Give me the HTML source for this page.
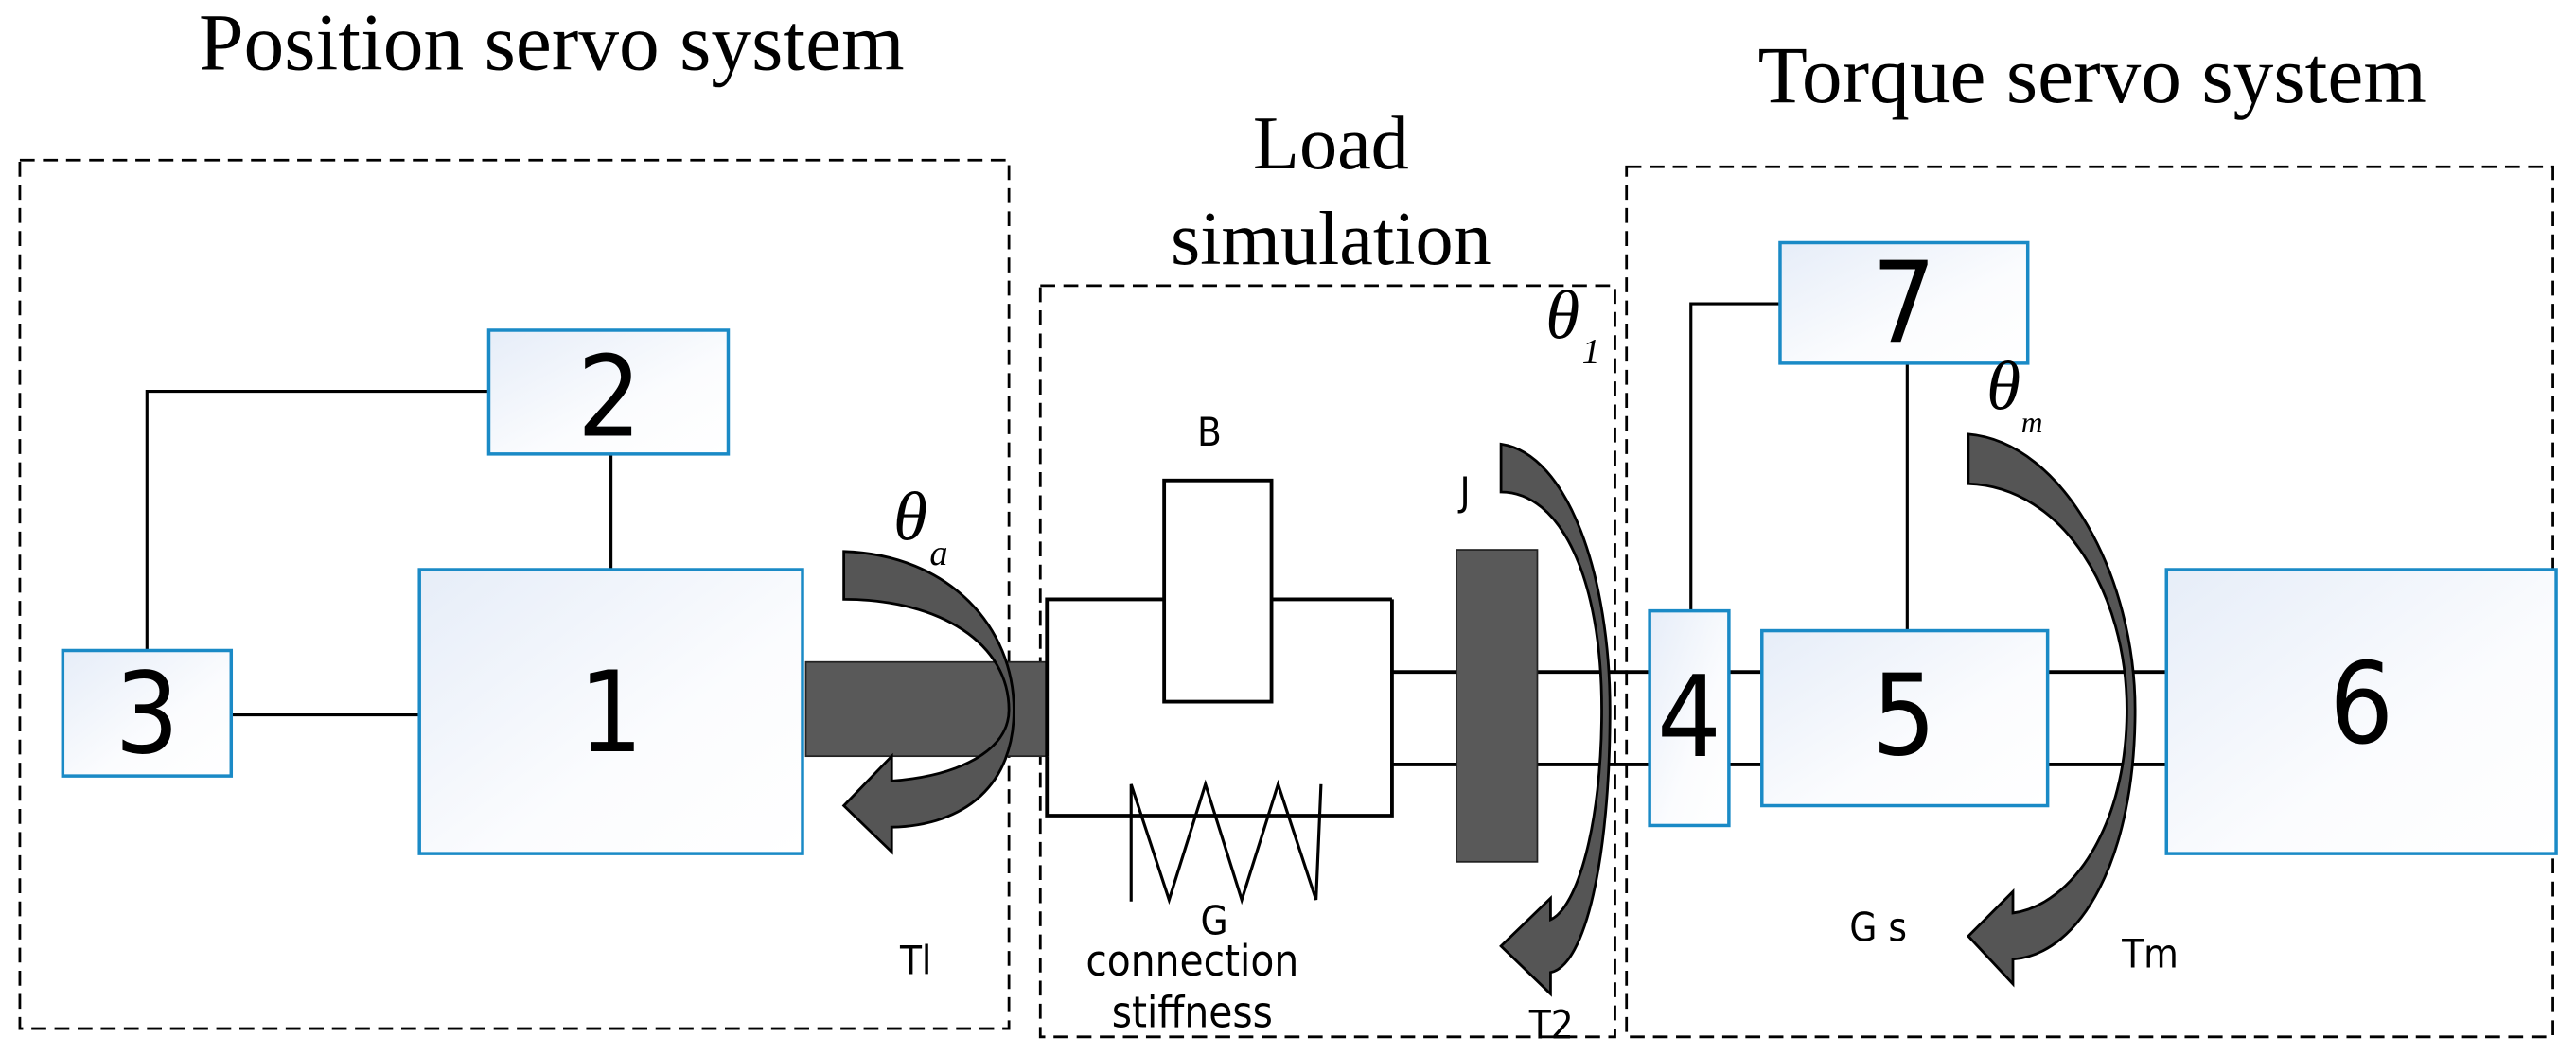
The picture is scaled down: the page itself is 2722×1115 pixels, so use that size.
<!DOCTYPE html>
<html><head><meta charset="utf-8"><style>
html,body{margin:0;padding:0;background:#fff;}
svg{display:block;}
.serif{font-family:"Liberation Serif",serif;}
.sans{font-family:"DejaVu Sans Condensed","Liberation Sans Narrow","Liberation Sans",sans-serif;}
</style></head><body>
<svg width="2722" height="1115" viewBox="0 0 1560 639" preserveAspectRatio="none" xmlns="http://www.w3.org/2000/svg">
<defs>
<linearGradient id="g" x1="0" y1="0" x2="1" y2="1">
<stop offset="0" stop-color="#e6edf8"/><stop offset="0.6" stop-color="#fbfcfe"/><stop offset="1" stop-color="#ffffff"/>
</linearGradient>
</defs>
<!-- titles -->
<text class="serif" x="334" y="42" font-size="49" text-anchor="middle">Position servo system</text>
<text class="serif" x="806" y="102" font-size="46" text-anchor="middle">Load</text>
<text class="serif" x="806" y="160" font-size="46" text-anchor="middle">simulation</text>
<text class="serif" x="1267" y="62" font-size="49" text-anchor="middle">Torque servo system</text>
<!-- dashed boxes -->
<g fill="none" stroke="#000" stroke-width="1.6" stroke-dasharray="9,5">
<rect x="12" y="97" width="599" height="526"/>
<rect x="630" y="173" width="348" height="455"/>
<rect x="985" y="101" width="561" height="527"/>
</g>
<!-- connectors -->
<g stroke="#000" stroke-width="1.8" fill="none">
<polyline points="89,394 89,237 296,237"/>
<line x1="370" y1="275" x2="370" y2="345"/>
<line x1="140" y1="433" x2="254" y2="433"/>
<polyline points="1078,184 1024,184 1024,370"/>
<line x1="1155" y1="220" x2="1155" y2="382"/>
</g>
<!-- shaft left -->
<rect x="488" y="401" width="146" height="57" fill="#595959" stroke="#222" stroke-width="1"/>
<!-- load frame -->
<g stroke="#000" stroke-width="2.2" fill="none">
<polyline points="634,458 634,363 705,363"/>
<line x1="770" y1="363" x2="843" y2="363"/>
<polyline points="634,458 634,494 843,494 843,363"/>
<rect x="705" y="291" width="65" height="134" fill="#fff"/>
<line x1="843" y1="407" x2="1000" y2="407"/>
<line x1="843" y1="463" x2="1000" y2="463"/>
<line x1="1047" y1="407" x2="1067" y2="407"/>
<line x1="1047" y1="463" x2="1067" y2="463"/>
<line x1="1240" y1="407" x2="1312" y2="407"/>
<line x1="1240" y1="463" x2="1312" y2="463"/>
<polyline stroke-width="1.8" points="685,546 685,475 708,545 730,475 752,545 774,475 797,545 800,475"/>
</g>
<!-- disk J -->
<rect x="882" y="333" width="49" height="189" fill="#595959" stroke="#222" stroke-width="1"/>
<!-- blue boxes -->
<g fill="url(#g)" stroke="#1a8ac6" stroke-width="2">
<rect x="296" y="200" width="145" height="75"/>
<rect x="254" y="345" width="232" height="172"/>
<rect x="38" y="394" width="102" height="76"/>
<rect x="999" y="370" width="48" height="130"/>
<rect x="1067" y="382" width="173" height="106"/>
<rect x="1312" y="345" width="236" height="172"/>
<rect x="1078" y="147" width="150" height="73"/>
</g>
<g class="sans" font-size="68" text-anchor="middle">
<text x="369" y="264">2</text>
<text x="370" y="455">1</text>
<text x="89" y="456">3</text>
<text x="1023" y="458">4</text>
<text x="1153" y="457">5</text>
<text x="1430" y="450">6</text>
<text x="1153" y="207">7</text>
</g>
<!-- curved arrows -->
<g fill="#555" stroke="#000" stroke-width="1.6">
<path d="M511,334 C575,336 614,380 614,430 C614,475 585,500 540,501 L540,516 L511,488 L540,458 L540,473 C580,470 611,455 611,430 C611,390 570,363 511,363 Z"/>
<path d="M909,269 C950,275 975,350 975,430 C975,520 960,585 939,589 L939,602 L909,573 L939,544 L939,557 C955,550 970,500 970,430 C970,350 945,298 909,298 Z"/>
<path d="M1192,263 C1250,268 1293,350 1293,430 C1293,520 1260,578 1219,581 L1219,596 L1192,567 L1219,540 L1219,553 C1255,548 1288,500 1288,430 C1288,360 1250,295 1192,293 Z"/>
</g>
<!-- labels -->
<g class="serif" font-style="italic">
<text x="541" y="327" font-size="42">θ</text><text x="563" y="342" font-size="22">a</text>
<text x="936" y="205" font-size="42">θ</text><text x="958" y="220" font-size="22">1</text>
<text x="1203" y="248" font-size="42">θ</text><text x="1224" y="262" font-size="18">m</text>
</g>
<g class="sans" font-size="24">
<text x="725" y="270">B</text>
<text x="884" y="306">J</text>
<text x="727" y="566">G</text>
<text x="722" y="591" font-size="26" text-anchor="middle">connection</text>
<text x="722" y="622" font-size="26" text-anchor="middle">stiffness</text>
<text x="545" y="590">Tl</text>
<text x="926" y="629">T2</text>
<text x="1120" y="570">G s</text>
<text x="1285" y="586">Tm</text>
</g>
</svg>
</body></html>
